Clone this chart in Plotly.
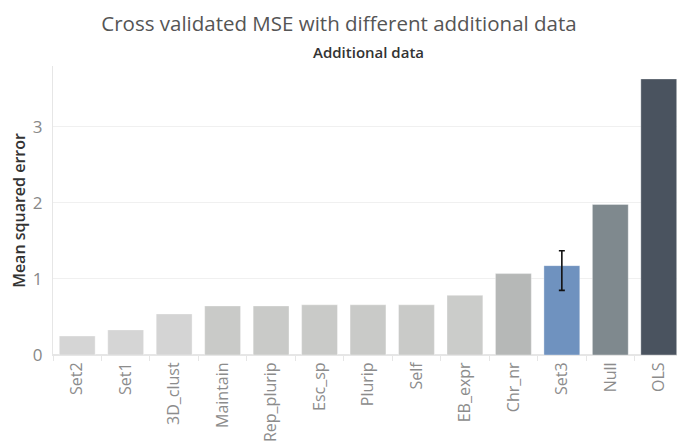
import plotly.graph_objects as go

categories = ["Set2", "Set1", "3D_clust", "Maintain", "Rep_plurip", "Esc_sp",
              "Plurip", "Self", "EB_expr", "Chr_nr", "Set3", "Null", "OLS"]
mse = [0.25, 0.33, 0.54, 0.645, 0.645, 0.66, 0.66, 0.66, 0.785, 1.07, 1.175, 1.98, 3.63]
bar_colors = ["#d5d5d5", "#d5d5d5", "#d4d4d4", "#c9cac8", "#c9cac8", "#c9cac8",
              "#c9cac8", "#c9cac8", "#cbccca", "#b6b8b7", "#6f92bf", "#7f898e", "#4a535f"]
err_category = "Set3"
err_value = 1.175
err_upper = 1.37
err_lower = 0.85
y_ticks = [0, 1, 2, 3]

fig = go.Figure()
fig.add_trace(go.Bar(
    x=categories, y=mse,
    marker=dict(color=bar_colors, line=dict(color="rgba(255,255,255,0.35)", width=1)),
    hoverinfo="x+y",
))
fig.add_trace(go.Scatter(
    x=[err_category], y=[err_value], mode="markers",
    marker=dict(size=0.1, color="rgba(0,0,0,0)"),
    error_y=dict(type="data", symmetric=False,
                 array=[err_upper - err_value], arrayminus=[err_value - err_lower],
                 color="#111111", thickness=1.6, width=3),
    showlegend=False,
))

# page has an 8px body margin, so the figure is 8px smaller and margins shifted
fig.update_layout(
    width=677, height=437,
    margin=dict(l=45, r=2, t=58, b=90),
    paper_bgcolor="white", plot_bgcolor="white",
    showlegend=False,
    bargap=0.26,
    font=dict(family="Open Sans, sans-serif", color="#888888"),
    title=dict(text="Cross validated MSE with different additional data",
               x=(339 - 8) / 677, xanchor="center", y=1 - 16 / 437, yanchor="middle",
               font=dict(size=20.5, color="#555555", family="Open Sans, sans-serif")),
    annotations=[dict(text="Additional data", xref="paper", yref="paper",
                      x=0.5, y=1.0 + 14 / 289, xanchor="center", yanchor="middle",
                      showarrow=False,
                      font=dict(size=15, color="#333333", family="Open Sans, sans-serif",
                                weight=600))],
)
fig.update_xaxes(
    type="category", tickangle=-90, tickfont=dict(size=16, color="#8c8c8c"),
    showline=True, linecolor="#e6e6e6", linewidth=1,
    ticks="outside", tickson="boundaries", ticklen=5, tickcolor="#e6e6e6",
    showgrid=False,
)
fig.update_yaxes(
    range=[0, 3.8], tickvals=y_ticks, ticktext=[str(v) for v in y_ticks],
    tickfont=dict(size=17, color="#888888"),
    showgrid=True, gridcolor="#f0f0f0", gridwidth=1,
    zeroline=True, zerolinecolor="#e6e6e6",
    showline=True, linecolor="#e6e6e6", linewidth=1,
    ticks="", ticklabelstandoff=6,
    title=dict(text="Mean squared error",
               font=dict(size=16, color="#333333", weight=600), standoff=12),
)

fig.write_html("out.html")
